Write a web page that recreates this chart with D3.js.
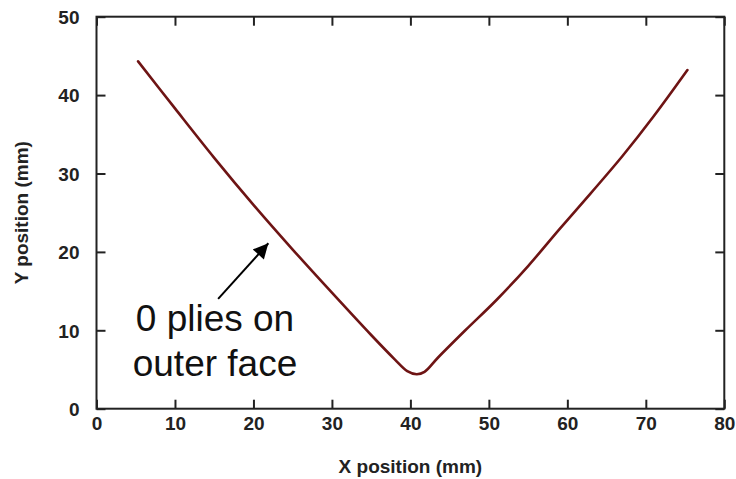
<!DOCTYPE html>
<html>
<head>
<meta charset="utf-8">
<script src="https://cdn.jsdelivr.net/npm/d3@7"></script>
<style>
  body { margin: 0; background: #fff; }
  svg { display: block; }
  .tick text { font-family: "Liberation Sans", Arial, sans-serif; font-weight: bold; font-size: 19px; fill: #222; }
</style>
</head>
<body>
<svg id="chart" width="736" height="479"></svg>
<script>
// Data
const xValues = [5.3, 10, 15, 20, 25, 30, 35, 38, 39.6, 40.8, 41.8, 43.5, 47, 51, 55, 59, 63, 67, 71, 75.3];
const yValues = [44.3, 38.3, 32.0, 26.0, 20.3, 14.8, 9.4, 6.3, 4.8, 4.4, 4.7, 6.5, 10.0, 13.9, 18.2, 22.9, 27.5, 32.2, 37.3, 43.2];
const xTicks = [0, 10, 20, 30, 40, 50, 60, 70, 80];
const yTicks = [0, 10, 20, 30, 40, 50];
const xLabel = "X position (mm)";
const yLabel = "Y position (mm)";
const annotationLines = ["0 plies on", "outer face"];
const arrowFrom = [15.5, 14.0];
const arrowTo = [21.9, 21.1];

const svg = d3.select("#chart");
const margin = { left: 96.5, right: 736 - 724.3, top: 16.7, bottom: 479 - 408.7 };
const W = 736, H = 479;
const x = d3.scaleLinear().domain([0, 80]).range([margin.left, W - margin.right]);
const y = d3.scaleLinear().domain([0, 50]).range([H - margin.bottom, margin.top]);

const tickLen = 9;
const axisColor = "#222";

const gB = svg.append("g").attr("transform", `translate(0,${y(0)})`)
  .call(d3.axisBottom(x).tickValues(xTicks).tickFormat(d3.format("d")).tickSizeInner(-tickLen).tickSizeOuter(0).tickPadding(8));
const gL = svg.append("g").attr("transform", `translate(${x(0)},0)`)
  .call(d3.axisLeft(y).tickValues(yTicks).tickFormat(d3.format("d")).tickSizeInner(-tickLen).tickSizeOuter(0).tickPadding(17));
const gT = svg.append("g").attr("transform", `translate(0,${y(50)})`)
  .call(d3.axisTop(x).tickValues(xTicks).tickFormat("").tickSizeInner(-tickLen).tickSizeOuter(0));
const gR = svg.append("g").attr("transform", `translate(${x(80)},0)`)
  .call(d3.axisRight(y).tickValues(yTicks).tickFormat("").tickSizeInner(-tickLen).tickSizeOuter(0));

[gB, gL, gT, gR].forEach(g => {
  g.select(".domain").remove();
  g.selectAll(".tick line").attr("stroke", axisColor).attr("stroke-width", 2);
});
gL.selectAll(".tick text").attr("dy", "0.36em");

svg.append("rect")
  .attr("x", x(0)).attr("y", y(50))
  .attr("width", x(80) - x(0)).attr("height", y(0) - y(50))
  .attr("fill", "none").attr("stroke", axisColor).attr("stroke-width", 2);

const pts = xValues.map((v, i) => [v, yValues[i]]);
svg.append("path")
  .datum(pts)
  .attr("fill", "none")
  .attr("stroke", "#6e1414")
  .attr("stroke-width", 2.6)
  .attr("stroke-linejoin", "round")
  .attr("stroke-linecap", "round")
  .attr("d", d3.line().x(d => x(d[0])).y(d => y(d[1])).curve(d3.curveCatmullRom.alpha(0.5)));

svg.append("text")
  .attr("x", (x(0) + x(80)) / 2).attr("y", 473)
  .attr("text-anchor", "middle")
  .style("font-family", "'Liberation Sans', Arial, sans-serif")
  .style("font-weight", "bold").style("font-size", "19px").style("fill", "#222")
  .text(xLabel);
svg.append("text")
  .attr("transform", `translate(28,${(y(0) + y(50)) / 2}) rotate(-90)`)
  .attr("text-anchor", "middle")
  .style("font-family", "'Liberation Sans', Arial, sans-serif")
  .style("font-weight", "bold").style("font-size", "19px").style("fill", "#222")
  .text(yLabel);

svg.append("defs").append("marker")
  .attr("id", "ah").attr("viewBox", "0 0 10 10")
  .attr("refX", 10).attr("refY", 5)
  .attr("markerWidth", 18).attr("markerHeight", 15)
  .attr("markerUnits", "userSpaceOnUse")
  .attr("orient", "auto")
  .append("path").attr("d", "M0,0 L10,5 L0,10 Z").attr("fill", "#000");
svg.append("line")
  .attr("x1", x(arrowFrom[0])).attr("y1", y(arrowFrom[1]))
  .attr("x2", x(arrowTo[0])).attr("y2", y(arrowTo[1]))
  .attr("stroke", "#000").attr("stroke-width", 2)
  .attr("marker-end", "url(#ah)");

const ann = svg.append("text")
  .attr("text-anchor", "middle")
  .style("font-family", "'Liberation Sans', Arial, sans-serif")
  .style("font-size", "37px").style("fill", "#111");
annotationLines.forEach((t, i) => {
  ann.append("tspan").attr("x", 215).attr("y", 331 + i * 45).text(t);
});
</script>
</body>
</html>
